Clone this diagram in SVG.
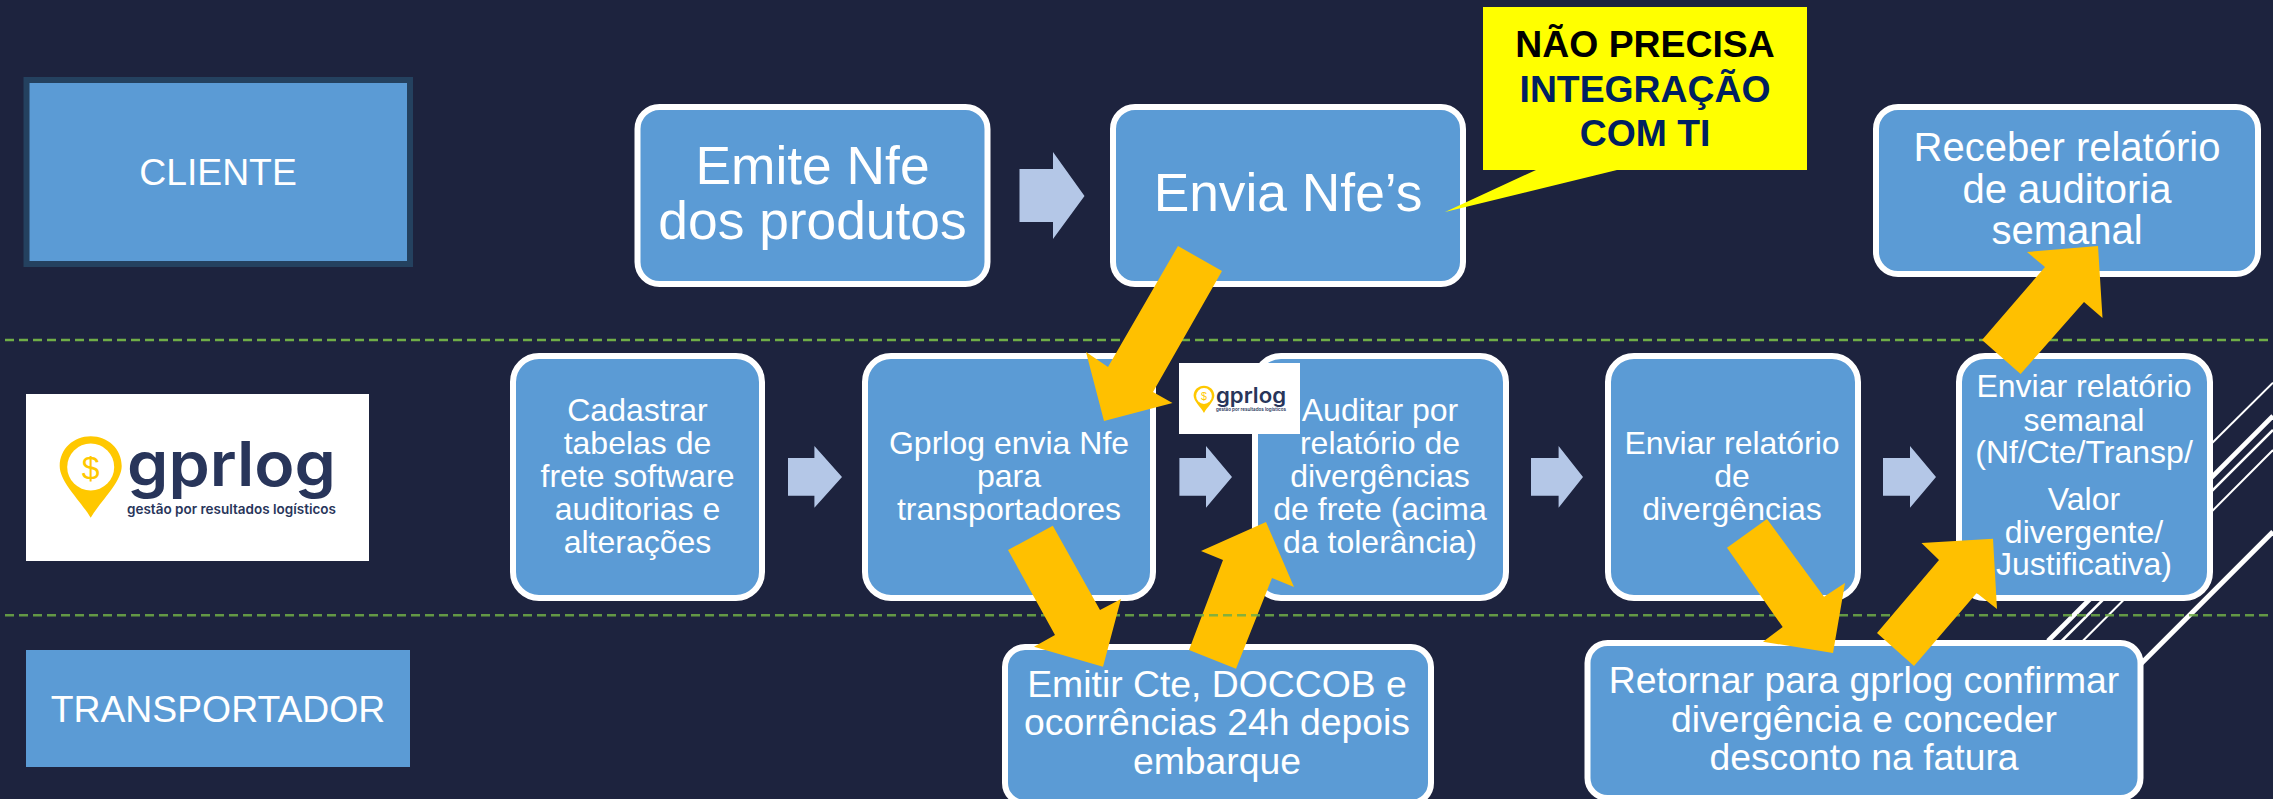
<svg xmlns="http://www.w3.org/2000/svg" width="2273" height="799" viewBox="0 0 2273 799">
<style>
text{font-family:"Liberation Sans",Arial,sans-serif;fill:#fff;text-anchor:middle}
.box{fill:#5b9bd5;stroke:#fff;stroke-width:6}
.t53{font-size:53.33px}.t40{font-size:40px}.t37{font-size:37.33px}.t32{font-size:32px}
.call{font-size:37.33px;font-weight:700}
.deco{stroke:#fff;fill:none}
.lane{stroke:#70ad47;stroke-width:2.5;stroke-dasharray:9 5;fill:none}
.blk{fill:#b4c7e7}
.ora{fill:#ffc000}
.lg{font-family:Inter,"Liberation Sans",sans-serif;font-weight:600;fill:#28355a;text-anchor:start}
.pin{fill:#ffc800}
</style>
<defs>
<path id="pinShape" d="M90.7 517.700C80 500 59.700 482 59.700 466C59.700 449 73.500 436.300 90.700 436.300C107.900 436.300 121.700 449 121.700 466C121.700 482 101.400 500 90.700 517.700Z"/>
</defs>
<rect width="2273" height="799" fill="#1d233e"/>
<g id="decor">
<line class="deco" stroke-width="2" x1="2273" y1="382.700" x2="2195" y2="460"/>
<line class="deco" stroke-width="4.700" x1="2273" y1="416" x2="2048" y2="641"/>
<line class="deco" stroke-width="2.500" x1="2273" y1="430" x2="2061.700" y2="641"/>
<line class="deco" stroke-width="2" x1="2273" y1="450" x2="2082.700" y2="641"/>
<line class="deco" stroke-width="5" x1="2273" y1="531.700" x2="2140" y2="664.700"/>
</g>
<line id="lane-top" class="lane" x1="5" y1="340" x2="2273" y2="340"/>
<g id="cliente">
<rect x="26.500" y="80" width="383.500" height="184" fill="#5b9bd5" stroke="#24415f" stroke-width="6"/>
<text x="218" y="185" class="t37">CLIENTE</text>
</g>
<g id="gprlog-logo">
<rect x="26" y="394" width="343" height="167" fill="#fff"/>
<use href="#pinShape" class="pin"/>
<circle cx="90.700" cy="467" r="23.500" fill="#fff"/>
<text x="90.700" y="479" font-size="32" style="fill:#ffc800">$</text>
<text class="lg" x="127" y="486" font-size="62" textLength="209" lengthAdjust="spacingAndGlyphs">gprlog</text>
<text class="lg" x="127" y="514" font-size="13.500" textLength="209" lengthAdjust="spacingAndGlyphs">gestão por resultados logísticos</text>
</g>
<g id="transportador">
<rect x="26" y="650" width="384" height="117" fill="#5b9bd5"/>
<text x="218" y="722" class="t37">TRANSPORTADOR</text>
</g>
<g id="emite">
<rect class="box" x="637.500" y="107" width="350" height="177" rx="22"/>
<text x="812.500" y="184" class="t53">Emite Nfe</text>
<text x="812.500" y="239" class="t53">dos produtos</text>
</g>
<g id="envia">
<rect class="box" x="1113" y="107" width="350" height="177" rx="22"/>
<text x="1288" y="211" class="t53">Envia Nfe’s</text>
</g>
<g id="receber">
<rect class="box" x="1876" y="107" width="382" height="167" rx="22"/>
<text x="2067" y="161" class="t40">Receber relatório</text>
<text x="2067" y="202.500" class="t40">de auditoria</text>
<text x="2067" y="244" class="t40">semanal</text>
</g>
<g id="callout">
<path fill="#ff0" d="M1483 7H1807V170H1617L1445 212L1536 170H1483Z"/>
<text x="1645" y="57" class="call" style="fill:#000">NÃO PRECISA</text>
<text x="1645" y="101.700" class="call" style="fill:#002060">INTEGRAÇÃO</text>
<text x="1645" y="146" class="call" style="fill:#002060">COM TI</text>
</g>
<g id="cadastrar">
<rect class="box" x="513" y="356" width="249" height="242" rx="26"/>
<text x="637.500" y="420.700" class="t32">Cadastrar</text>
<text x="637.500" y="453.500" class="t32">tabelas de</text>
<text x="637.500" y="486.500" class="t32">frete software</text>
<text x="637.500" y="519.500" class="t32">auditorias e</text>
<text x="637.500" y="552.500" class="t32">alterações</text>
</g>
<g id="gprlog-envia">
<rect class="box" x="865" y="356" width="288" height="242" rx="26"/>
<text x="1009" y="453.500" class="t32">Gprlog envia Nfe</text>
<text x="1009" y="486.500" class="t32">para</text>
<text x="1009" y="519.500" class="t32">transportadores</text>
</g>
<g id="auditar">
<rect class="box" x="1255" y="356" width="251" height="242" rx="26"/>
<text x="1380" y="420.700" class="t32">Auditar por</text>
<text x="1380" y="453.500" class="t32">relatório de</text>
<text x="1380" y="486.500" class="t32">divergências</text>
<text x="1380" y="519.500" class="t32">de frete (acima</text>
<text x="1380" y="552.500" class="t32">da tolerância)</text>
</g>
<g id="gprlog-logo-small">
<rect x="1179" y="363" width="121" height="71" fill="#fff"/>
<use href="#pinShape" class="pin" transform="translate(1173.600 239.500) scale(.335)"/>
<circle cx="1204" cy="396" r="7.900" fill="#fff"/>
<text x="1204" y="400" font-size="10.700" style="fill:#ffc800">$</text>
<text class="lg" x="1216" y="403.300" font-size="20.800" textLength="70" lengthAdjust="spacingAndGlyphs">gprlog</text>
<text class="lg" x="1216" y="410.700" font-size="4.500" textLength="70" lengthAdjust="spacingAndGlyphs">gestão por resultados logísticos</text>
</g>
<g id="enviar-divergencias">
<rect class="box" x="1608" y="356" width="250" height="242" rx="26"/>
<text x="1732" y="453.500" class="t32">Enviar relatório</text>
<text x="1732" y="486.500" class="t32">de</text>
<text x="1732" y="519.500" class="t32">divergências</text>
</g>
<g id="enviar-semanal">
<rect class="box" x="1959" y="356" width="251" height="242" rx="26"/>
<text x="2084" y="397" class="t32">Enviar relatório</text>
<text x="2084" y="430.500" class="t32">semanal</text>
<text x="2084" y="463" class="t32">(Nf/Cte/Transp/</text>
<text x="2084" y="510" class="t32">Valor</text>
<text x="2084" y="542.700" class="t32">divergente/</text>
<text x="2084" y="575" class="t32">Justificativa)</text>
</g>
<g id="emitir">
<rect class="box" x="1005" y="647" width="426" height="156" rx="20"/>
<text x="1217" y="696.700" class="t37">Emitir Cte, DOCCOB e</text>
<text x="1217" y="735" class="t37">ocorrências 24h depois</text>
<text x="1217" y="774" class="t37">embarque</text>
</g>
<g id="retornar">
<rect class="box" x="1587.500" y="643" width="553" height="155" rx="20"/>
<text x="1864" y="692.700" class="t37">Retornar para gprlog confirmar</text>
<text x="1864" y="731.700" class="t37">divergência e conceder</text>
<text x="1864" y="770" class="t37">desconto na fatura</text>
</g>
<g id="connectors">
<polygon class="blk" points="1019.500,169 1053,169 1053,152 1084.500,196 1053,239 1053,222 1019.500,222"/>
<polygon class="blk" points="788,458 814.400,458 814.400,446 842,477 814.400,507.700 814.400,495.700 788,495.700"/>
<polygon class="blk" points="1179.400,458 1206,458 1206,446 1232,477 1206,507.700 1206,495.700 1179.400,495.700"/>
<polygon class="blk" points="1531,458 1558.600,458 1558.600,446 1583,477 1558.600,507.700 1558.600,495.700 1531,495.700"/>
<polygon class="blk" points="1883,458 1910,458 1910,446 1936,477 1910,507.700 1910,495.700 1883,495.700"/>
<polygon class="ora" points="1178,246 1222,271 1153,392 1172.500,403 1104,421 1086,352 1108,367"/>
<polygon class="ora" points="2098,246 2027,252 2045,267 1982,340 2020.600,374 2084,302 2102.500,318"/>
<polygon class="ora" points="1266,522 1201,551 1223,560 1189,650 1236,668.700 1272,578 1294,587"/>
<line id="lane-bottom" class="lane" x1="5" y1="615.300" x2="2273" y2="615.300" opacity=".85"/>
<polygon class="ora" points="1052.800,525.700 1008,550 1055,635 1034,646.700 1103,666.700 1121,599 1100,610"/>
<polygon class="ora" points="1767,519 1727,547.700 1782.700,627 1763,641.700 1833,653 1845,583 1824,596.700"/>
<polygon class="ora" points="1993,538.700 1921.500,543 1939,560 1877,633 1914,666 1976.700,593 1997,609"/>
</g>
</svg>
